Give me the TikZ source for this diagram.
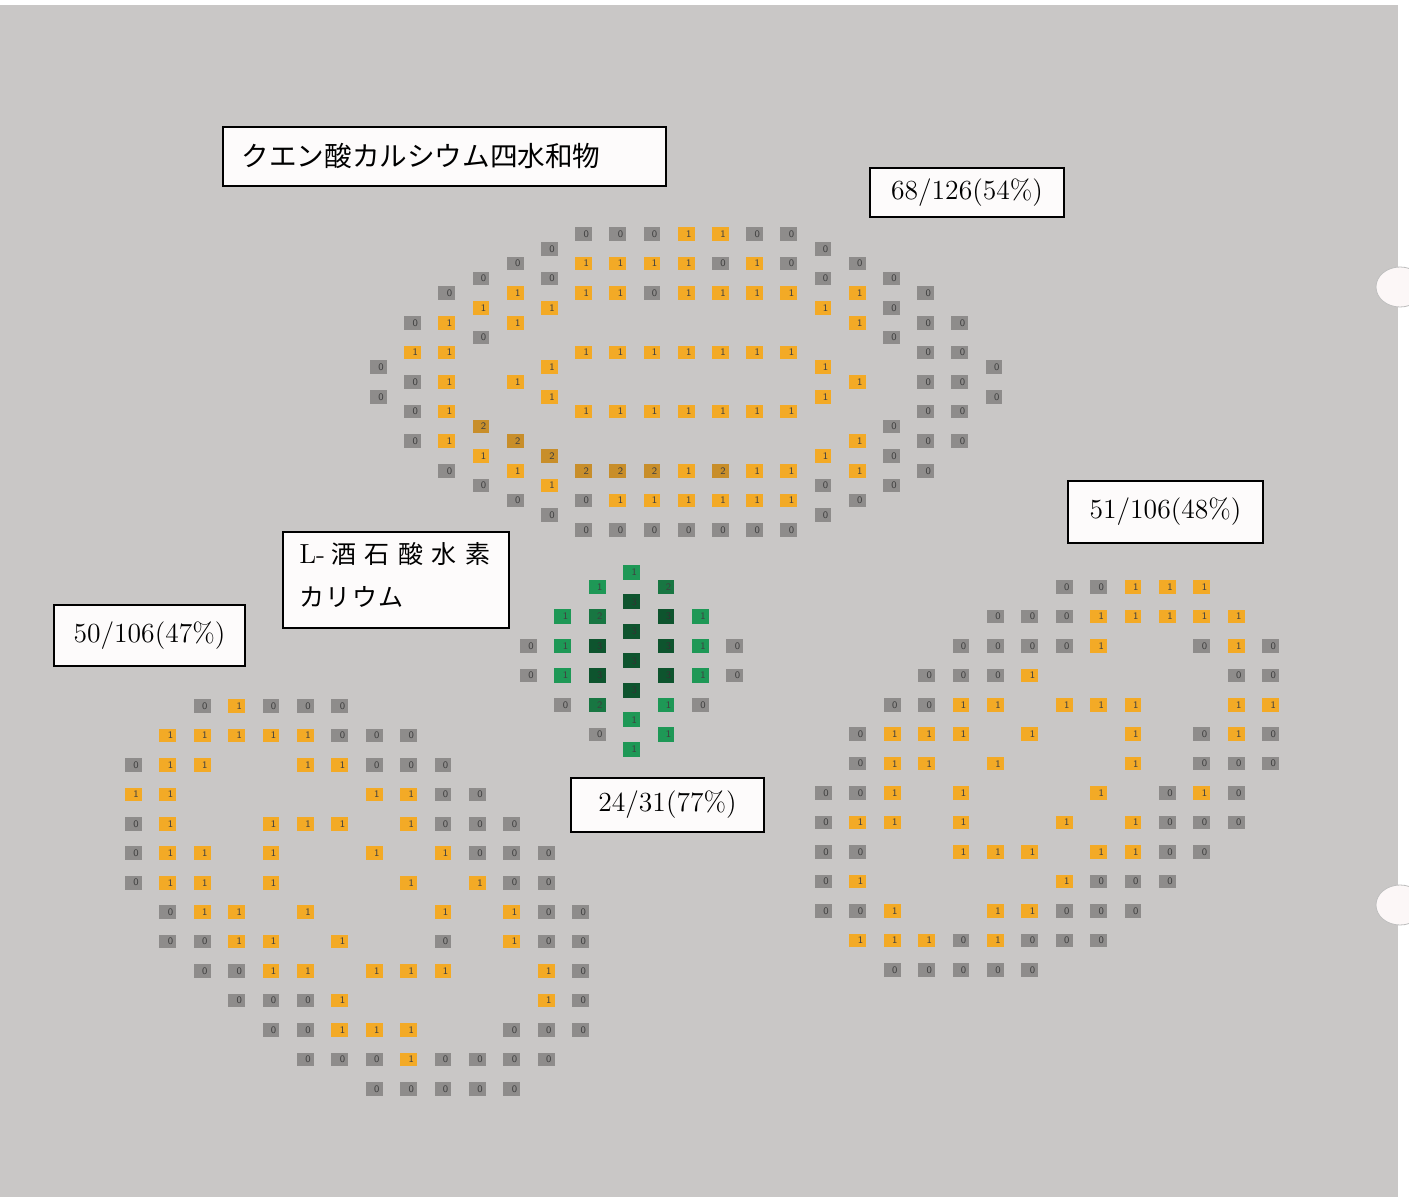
\documentclass[tikz,border=0pt]{standalone}
\usepackage{fontspec}
\newfontfamily\cjk{Noto Sans CJK JP}
\definecolor{paper}{RGB}{201,199,198}
\definecolor{hole}{RGB}{252,247,247}
\definecolor{boxwhite}{RGB}{253,251,251}
\definecolor{zerogray}{RGB}{142,140,139}
\definecolor{amber}{RGB}{243,170,38}
\definecolor{darkamber}{RGB}{200,142,42}
\definecolor{greenA}{RGB}{30,152,86}
\definecolor{greenB}{RGB}{24,118,66}
\definecolor{greenC}{RGB}{14,84,46}
\tikzset{
  cell/.style={rectangle, inner xsep=1.5pt, inner ysep=0pt, text width=5.4pt, align=right,
    minimum height=6.8pt, font=\sffamily\fontsize{5}{5.5}\selectfont, text=black!75},
  cell0/.style={cell, fill=zerogray},
  cell1/.style={cell, fill=amber},
  cell2/.style={cell, fill=darkamber},
  gcell0/.style={cell0},
  gcell1/.style={cell, fill=greenA, minimum height=7.4pt},
  gcell2/.style={cell, fill=greenB, minimum height=7.4pt},
  gcell3/.style={cell, fill=greenC, minimum height=7.4pt, text=black!80},
  labelbox/.style={draw=black, line width=0.85pt, fill=boxwhite, inner sep=0pt,
    font=\fontsize{13.8}{16}\selectfont}
}
\begin{document}
\begin{tikzpicture}[x=0.5pt,y=-0.5pt]
\useasboundingbox (0,0) rectangle (1409,1197);
% page
\fill[white] (0,0) rectangle (1409,1197);
\fill[paper] (0,5) rectangle (1398,1197);
% punch holes
\filldraw[fill=hole, draw=black!25, line width=0.4pt] (1400,287) ellipse (12pt and 10pt);
\filldraw[fill=hole, draw=black!25, line width=0.4pt] (1400,905) ellipse (12pt and 10pt);

% citrate ring (top)
\foreach \k/\j/\v in {6/0/0,7/0/0,8/0/0,9/0/1,10/0/1,11/0/0,12/0/0,
  5/1/0,13/1/0,
  4/2/0,6/2/1,7/2/1,8/2/1,9/2/1,10/2/0,11/2/1,12/2/0,14/2/0,
  3/3/0,5/3/0,13/3/0,15/3/0,
  2/4/0,4/4/1,6/4/1,7/4/1,8/4/0,9/4/1,10/4/1,11/4/1,12/4/1,14/4/1,16/4/0,
  3/5/1,5/5/1,13/5/1,15/5/0,
  1/6/0,2/6/1,4/6/1,14/6/1,16/6/0,17/6/0,
  3/7/0,15/7/0,
  1/8/1,2/8/1,6/8/1,7/8/1,8/8/1,9/8/1,10/8/1,11/8/1,12/8/1,16/8/0,17/8/0,
  0/9/0,5/9/1,13/9/1,18/9/0,
  1/10/0,2/10/1,4/10/1,14/10/1,16/10/0,17/10/0,
  0/11/0,5/11/1,13/11/1,18/11/0,
  1/12/0,2/12/1,6/12/1,7/12/1,8/12/1,9/12/1,10/12/1,11/12/1,12/12/1,16/12/0,17/12/0,
  3/13/2,15/13/0,
  1/14/0,2/14/1,4/14/2,14/14/1,16/14/0,17/14/0,
  3/15/1,5/15/2,13/15/1,15/15/0,
  2/16/0,4/16/1,6/16/2,7/16/2,8/16/2,9/16/1,10/16/2,11/16/1,12/16/1,14/16/1,16/16/0,
  3/17/0,5/17/1,13/17/0,15/17/0,
  4/18/0,6/18/0,7/18/1,8/18/1,9/18/1,10/18/1,11/18/1,12/18/1,14/18/0,
  5/19/0,13/19/0,
  6/20/0,7/20/0,8/20/0,9/20/0,10/20/0,11/20/0,12/20/0}
  \node[cell\v] at ({378.3+34.2*\k},{234+14.8*\j}) {\v};

% tartrate (middle)
\foreach \k/\j/\v in {3/0/1,2/1/1,4/1/2,3/2/3,1/3/1,2/3/2,4/3/3,5/3/1,3/4/3,
  0/5/0,1/5/1,2/5/3,4/5/3,5/5/1,6/5/0,3/6/3,0/7/0,1/7/1,2/7/3,4/7/3,5/7/1,6/7/0,
  3/8/3,1/9/0,2/9/2,4/9/1,5/9/0,3/10/1,2/11/0,4/11/1,3/12/1}
  \node[gcell\v] at ({528.3+34.4*\k},{572.3+14.75*\j}) {\v};

% left ring
\foreach \k/\j/\v in {2/0/0,3/0/1,4/0/0,5/0/0,6/0/0,
  1/1/1,2/1/1,3/1/1,4/1/1,5/1/1,6/1/0,7/1/0,8/1/0,
  0/2/0,1/2/1,2/2/1,5/2/1,6/2/1,7/2/0,8/2/0,9/2/0,
  0/3/1,1/3/1,7/3/1,8/3/1,9/3/0,10/3/0,
  0/4/0,1/4/1,4/4/1,5/4/1,6/4/1,8/4/1,9/4/0,10/4/0,11/4/0,
  0/5/0,1/5/1,2/5/1,4/5/1,7/5/1,9/5/1,10/5/0,11/5/0,12/5/0,
  0/6/0,1/6/1,2/6/1,4/6/1,8/6/1,10/6/1,11/6/0,12/6/0,
  1/7/0,2/7/1,3/7/1,5/7/1,9/7/1,11/7/1,12/7/0,13/7/0,
  1/8/0,2/8/0,3/8/1,4/8/1,6/8/1,9/8/0,11/8/1,12/8/0,13/8/0,
  2/9/0,3/9/0,4/9/1,5/9/1,7/9/1,8/9/1,9/9/1,12/9/1,13/9/0,
  3/10/0,4/10/0,5/10/0,6/10/1,12/10/1,13/10/0,
  4/11/0,5/11/0,6/11/1,7/11/1,8/11/1,11/11/0,12/11/0,13/11/0,
  5/12/0,6/12/0,7/12/0,8/12/1,9/12/0,10/12/0,11/12/0,12/12/0,
  7/13/0,8/13/0,9/13/0,10/13/0,11/13/0}
  \node[cell\v] at ({133.3+34.4*\k},{706+29.45*\j}) {\v};

% right ring
\foreach \k/\j/\v in {7/0/0,8/0/0,9/0/1,10/0/1,11/0/1,
  5/1/0,6/1/0,7/1/0,8/1/1,9/1/1,10/1/1,11/1/1,12/1/1,
  4/2/0,5/2/0,6/2/0,7/2/0,8/2/1,11/2/0,12/2/1,13/2/0,
  3/3/0,4/3/0,5/3/0,6/3/1,12/3/0,13/3/0,
  2/4/0,3/4/0,4/4/1,5/4/1,7/4/1,8/4/1,9/4/1,12/4/1,13/4/1,
  1/5/0,2/5/1,3/5/1,4/5/1,6/5/1,9/5/1,11/5/0,12/5/1,13/5/0,
  1/6/0,2/6/1,3/6/1,5/6/1,9/6/1,11/6/0,12/6/0,13/6/0,
  0/7/0,1/7/0,2/7/1,4/7/1,8/7/1,10/7/0,11/7/1,12/7/0,
  0/8/0,1/8/1,2/8/1,4/8/1,7/8/1,9/8/1,10/8/0,11/8/0,12/8/0,
  0/9/0,1/9/0,4/9/1,5/9/1,6/9/1,8/9/1,9/9/1,10/9/0,11/9/0,
  0/10/0,1/10/1,7/10/1,8/10/0,9/10/0,10/10/0,
  0/11/0,1/11/0,2/11/1,5/11/1,6/11/1,7/11/0,8/11/0,9/11/0,
  1/12/1,2/12/1,3/12/1,4/12/0,5/12/1,6/12/0,7/12/0,8/12/0,
  2/13/0,3/13/0,4/13/0,5/13/0,6/13/0}
  \node[cell\v] at ({823.3+34.4*\k},{587+29.45*\j}) {\v};

% labels
\node[labelbox, text width=202.6pt, inner xsep=9.5pt, minimum height=29.6pt, align=left]
  (citrate) at (444.3,156.3) {\cjk クエン酸カルシウム四水和物};
\node[labelbox, minimum width=113.3pt, minimum height=48.3pt] (tartrate) at (396,580) {};
\node[anchor=west, inner sep=0pt, align=left, xshift=8.5pt, yshift=2.5pt,
  font=\fontsize{12.5}{21.5}\selectfont] (tartratetext) at (tartrate.west)
  {{\fontsize{13.8}{21.5}\selectfont L-}\hspace{3pt}{\cjk\addfontfeature{LetterSpace=34}酒石酸水素}\\
   {\cjk\addfontfeature{LetterSpace=6}カリウム}};
\node[labelbox, minimum width=97pt, minimum height=24.5pt] (toprate) at (967,192.5) {68/126(54\%)};
\node[labelbox, minimum width=97.5pt, minimum height=31pt] (rightrate) at (1165.5,512) {51/106(48\%)};
\node[labelbox, minimum width=95.5pt, minimum height=30.5pt] (leftrate) at (149.5,635.5) {50/106(47\%)};
\node[labelbox, minimum width=96.5pt, minimum height=27pt] (midrate) at (667.5,805) {24/31(77\%)};

\end{tikzpicture}
\end{document}
